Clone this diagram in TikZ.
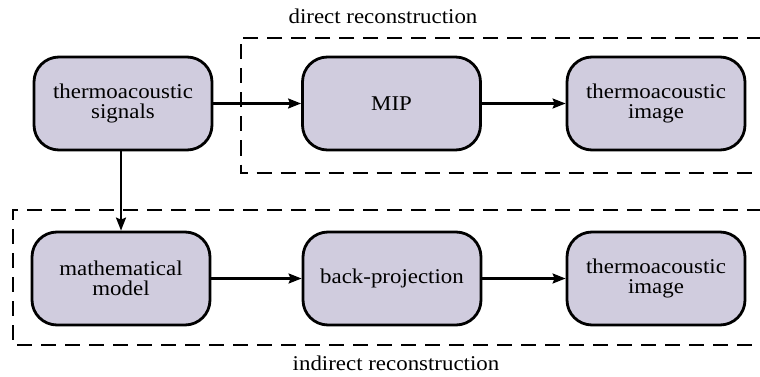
\documentclass[tikz,border=0pt]{standalone}
\usepackage{fontspec}
\setmainfont[FakeStretch=1.09]{Liberation Serif}
\usetikzlibrary{arrows.meta}
\definecolor{boxfill}{RGB}{208,204,222}
\tikzset{
  stage/.style={draw=black, line width=2.8pt, fill=boxfill, rounded corners=25pt,
    minimum width=178pt, minimum height=93pt, align=center, inner sep=0pt,
    font=\fontsize{21}{19.5}\selectfont},
  flow/.style={line width=2.3pt, -{Stealth[length=13pt,width=10pt,inset=2pt]}},
  group/.style={line width=2pt, dash pattern=on 15pt off 9pt},
  caption/.style={font=\fontsize{21}{19.5}\selectfont, inner sep=0pt, anchor=base}
}
\begin{document}
\begin{tikzpicture}[x=1pt,y=-1pt]
\useasboundingbox (0,0) rectangle (760,377);
% dashed groups (open at the right edge)
\draw[group] (762,38) -- (240.5,38) -- (240.5,172.5) -- (762,172.5);
\draw[group] (762,210) -- (13,210) -- (13,345) -- (762,345);
\node[caption] (dlab) at (383,23.5) {direct reconstruction};
\node[caption] (ilab) at (396,370) {indirect reconstruction};
% stages
\node[stage] (sig)  at (123,103.5) {thermoacoustic\\signals};
\node[stage] (mip)  at (391.5,103.5) {MIP};
\node[stage] (img1) at (656,103.5) {thermoacoustic\\image};
\node[stage] (math) at (121,278.5) {mathematical\\model};
\node[stage] (bp)   at (392,278.5) {back-projection};
\node[stage] (img2) at (656,278.5) {thermoacoustic\\image};
% connectors
\draw[flow] (sig.east) -- (mip.west);
\draw[flow] (mip.east) -- (img1.west);
\draw[flow] (sig.south -| math.north) -- (math.north);
\draw[flow] (math.east) -- (bp.west);
\draw[flow] (bp.east) -- (img2.west);
\end{tikzpicture}
\end{document}
